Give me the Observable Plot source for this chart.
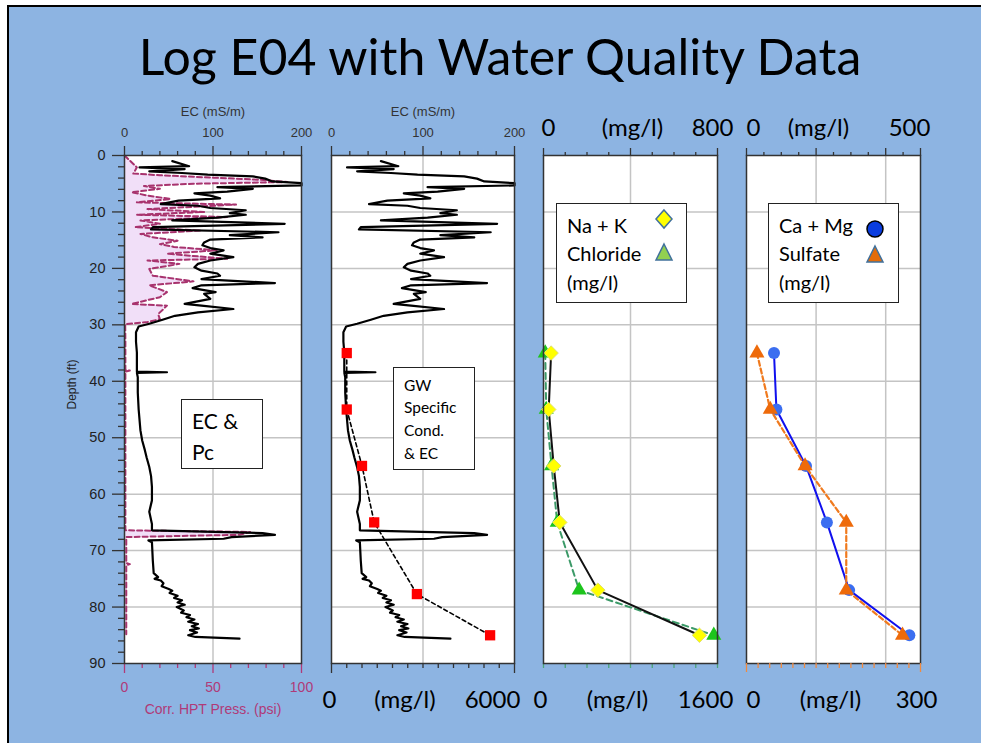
<!DOCTYPE html>
<html><head><meta charset="utf-8">
<script src="https://cdn.jsdelivr.net/npm/d3@7"></script>
<script src="https://cdn.jsdelivr.net/npm/@observablehq/plot@0.6"></script>
<style>
body{margin:0;background:#fff;width:981px;height:743px;overflow:hidden;position:relative;font-family:Lato,'Open Sans',sans-serif}
#slide{position:absolute;left:7px;top:5px;width:1000px;height:800px;background:#8DB4E2;border-top:2px solid #000;border-left:2px solid #000}
#title{position:absolute;left:0;width:1000px;top:26px;text-align:center;font-size:50px;color:#000;font-family:Lato,sans-serif}
.box{position:absolute;background:#fff;border:1px solid #222;box-sizing:border-box;font-family:Lato,sans-serif;color:#000}
.box div{position:absolute;white-space:nowrap}
svg.layer{position:absolute;top:90px}
</style></head><body>
<div id="slide"></div>
<div id="title">Log E04 with Water Quality Data</div>
<script>
// ---------- data ----------
const depthTicks = [0,10,20,30,40,50,60,70,80,90];
const gridDepths = [10,20,30,40,50,60,70,80];
const ecTickLabels = [0,100,200];
const psiTickLabels = [0,50,100];

const ecDepth = [1.0,1.9,2.1,2.4,2.8,3.1,3.4,3.7,4.1,4.6,4.9,5.3,5.6,5.9,6.4,6.7,7.1,7.6,8.0,8.6,8.9,9.3,9.7,10.2,10.5,11.0,11.5,12.1,12.7,13.1,13.6,14.1,14.5,14.9,15.4,15.9,16.4,16.8,17.4,18.0,18.6,19.2,19.8,20.4,20.9,21.3,21.9,22.6,23.0,23.5,24.2,24.5,25.4,26.3,26.6,27.2,27.8,28.4,29.1,29.8,30.3,31.3,33.0,34.9,37.0,38.3,38.4,38.5,39.3,42.0,45.0,48.7,50.5,52.2,53.5,55.2,56.8,58.7,61.1,63.1,65.3,66.4,66.9,67.2,67.6,67.9,68.2,68.5,71.8,74.0,74.7,75.0,75.3,75.8,76.3,76.8,77.1,77.5,78.0,78.4,78.8,79.2,79.6,80.0,80.6,81.0,81.4,81.8,82.2,82.6,83.0,83.4,83.8,84.1,84.5,85.0,85.3,85.6];
const ecValue = [54,73,17,68,28,65,94,145,159,167,200,200,105,145,116,79,97,108,61,41,83,97,137,119,137,105,54,181,32,30,174,119,156,97,90,88,97,112,97,123,97,83,79,87,105,108,87,170,87,77,103,90,97,68,87,123,83,57,43,28,16,13,13,14,14,14,48,14,15,15,16,18,20,23,25,28,30,31,31,28,31,31,156,170,121,112,27,31,32,33,38,34,41,44,42,50,54,51,60,56,65,60,68,59,67,64,74,70,79,72,83,76,84,74,82,72,80,130];

const pressDepth = [0,1.2,2.1,3.2,3.5,4.3,4.7,5.0,5.4,5.9,6.5,7.1,7.7,8.3,8.7,9.5,10.0,10.5,10.9,11.5,12.1,12.7,13.3,13.9,14.5,15.1,15.7,16.2,16.8,17.4,18.3,18.6,19.2,20.1,21.3,22.3,23.0,24.2,25.1,26.3,26.6,28.1,29.0,29.5,29.9,33.0,38.0,38.1,38.3,50.0,66.4,66.7,67.2,67.6,72.2,72.4,72.6,84.8];
const pressValue = [0,4,7,5,20,77,92,39,11,20,4,13,26,7,63,13,45,7,58,9,20,6,43,9,16,30,20,28,52,24,58,13,31,14,16,39,14,24,20,4,24,19,20,13,0.4,0.5,0.5,3,0.5,0.5,0.5,71,65,1,1,3,1,1];

const sampleDepth = [35,45,55,65,77.7,85];
const specCond = [500,500,1000,1400,2800,5200];          // mg/l, 0-6000 scale

const ionDepth = [35,45,55,65,77,85];
const naK = [35,24,47,75,250,717];                       // mg/l, 0-800 scale
const chloride = [16,25,74,126,328,1566];                // mg/l, 0-1600 scale
const caMg = [79,86,171,231,295,468];                    // mg/l, 0-500 scale
const sulfate = [18,41,101,172,172,269];                 // mg/l, 0-300 scale

const unitLabel = "(mg/l)";

// ---------- tables ----------
const ec = ecDepth.map((d,i)=>({d, v:ecValue[i]}));
const press = pressDepth.map((d,i)=>({d, v:pressValue[i]}));
const sc = sampleDepth.map((d,i)=>({d, v:specCond[i]}));
const nak = ionDepth.map((d,i)=>({d, v:naK[i]}));
const cl = ionDepth.map((d,i)=>({d, v:chloride[i]}));
const cam = ionDepth.map((d,i)=>({d, v:caMg[i]}));
const so4 = ionDepth.map((d,i)=>({d, v:sulfate[i]}));

// ---------- helpers ----------
const AX = "#333";
const GRID = "#c4c4c4";
const MAG = "#B03A78";
function layer(left, width, ml, mr, domain, marks){
  const svg = Plot.plot({
    width, height:640, marginTop:65, marginBottom:67, marginLeft:ml, marginRight:mr,
    x:{domain, axis:null}, y:{domain:[0,90], reverse:true, axis:null},
    style:{background:"transparent", overflow:"visible", fontFamily:"'Liberation Sans', Arial, sans-serif"},
    marks
  });
  svg.classList.add("layer");
  svg.style.left = left+"px";
  document.body.appendChild(svg);
}
const blank = ()=>"";
function ticksX(vals, anchor, size, color){
  return Plot.axisX(vals, {anchor, tickSize:size, tickFormat:blank, stroke:color, strokeWidth:1.3, label:null});
}
const bgMarks = (gx)=>[
  Plot.frame({fill:"white", stroke:null}),
  Plot.gridX(gx, {stroke:GRID, strokeOpacity:1, strokeWidth:1.5}),
  Plot.gridY(gridDepths, {stroke:GRID, strokeOpacity:1, strokeWidth:1.5})
];
function bigLabels(vals, anchor, dxs, color){
  const dy = anchor==="top" ? -27 : 37;
  return [
    Plot.text([vals[0]], {x:d=>d, text:d=>String(d), frameAnchor:anchor, dy, dx:dxs[0], fontSize:24, fontFamily:"Lato", fill:color||"#000", lineAnchor:"middle"}),
    Plot.text([vals[1]], {x:d=>d, text:d=>String(d), frameAnchor:anchor, dy, dx:dxs[1], fontSize:24, fontFamily:"Lato", fill:color||"#000", lineAnchor:"middle"}),
    Plot.text([unitLabel], {frameAnchor:anchor, dy, dx:dxs[2], fontSize:24, fontFamily:"Lato", fill:color||"#000", lineAnchor:"middle"})
  ];
}

// ---------- Panel 1 ----------
const P1 = [60, 260, 64, 19];
layer(...P1, [0,200], bgMarks([100]));
layer(...P1, [0,100], [
  Plot.areaX(press, {x:"v", y:"d", fill:"#F1DFF8"}),
  Plot.lineX(press, {x:"v", y:"d", stroke:"#A8336E", strokeWidth:2, strokeDasharray:"5,3"}),
  ticksX([10,20,30,40,60,70,80,90], "bottom", 5, MAG),
  ticksX(psiTickLabels, "bottom", 10, MAG),
  Plot.text(psiTickLabels, {x:d=>d, text:d=>String(d), frameAnchor:"bottom", dy:24, fontSize:14, fill:MAG, lineAnchor:"middle"}),
  Plot.text(["Corr. HPT Press. (psi)"], {frameAnchor:"bottom", dy:46, fontSize:14, fill:MAG, lineAnchor:"middle"})
]);
layer(...P1, [0,200], [
  Plot.lineX(ec, {x:"v", y:"d", stroke:"#000", strokeWidth:2.2}),
  Plot.frame({stroke:AX, strokeWidth:1.5}),
  ticksX([20,40,60,80,120,140,160,180], "top", 5, AX),
  ticksX(ecTickLabels, "top", 10, AX),
  Plot.text(ecTickLabels, {x:d=>d, text:d=>String(d), frameAnchor:"top", dy:-23, fontSize:13, fill:AX, lineAnchor:"middle"}),
  Plot.text(["EC (mS/m)"], {frameAnchor:"top", dy:-44, fontSize:13, fill:AX, lineAnchor:"middle"}),
  Plot.axisY(depthTicks.flatMap(t=>[t+2,t+4,t+6,t+8]).filter(t=>t<90), {anchor:"left", tickSize:6, tickFormat:blank, stroke:AX, strokeWidth:1.3, label:null}),
  Plot.axisY(depthTicks, {anchor:"left", tickSize:12, tickFormat:blank, stroke:AX, strokeWidth:1.3, label:null}),
  Plot.text(depthTicks, {y:d=>d, text:d=>String(d), frameAnchor:"left", dx:-19, textAnchor:"end", fontSize:14.5, fill:"#222"}),
  Plot.text(["Depth (ft)"], {frameAnchor:"left", dx:-52, rotate:-90, fontSize:12, fill:"#222"})
]);

// ---------- Panel 2 ----------
const P2 = [310, 220, 21, 16];
layer(...P2, [0,200], [
  ...bgMarks([100]),
  Plot.lineX(ec, {x:"v", y:"d", stroke:"#000", strokeWidth:2.2}),
  Plot.frame({stroke:AX, strokeWidth:1.5}),
  ticksX([20,40,60,80,120,140,160,180], "top", 5, AX),
  ticksX(ecTickLabels, "top", 10, AX),
  Plot.text(ecTickLabels, {x:d=>d, text:d=>String(d), frameAnchor:"top", dy:-23, fontSize:13, fill:AX, lineAnchor:"middle"}),
  Plot.text(["EC (mS/m)"], {frameAnchor:"top", dy:-44, fontSize:13, fill:AX, lineAnchor:"middle"})
]);
layer(...P2, [0,6000], [
  Plot.lineX(sc, {x:"v", y:"d", stroke:"#000", strokeWidth:1.6, strokeDasharray:"4,3"}),
  Plot.dot(sc, {x:"v", y:"d", symbol:"square", r:5.8, fill:"#FF0000"}),
  ticksX([500,1000,1500,2000,2500,3000,3500,4000,4500,5000,5500], "bottom", 5, AX),
  ticksX([0,6000], "bottom", 10, AX),
  ...bigLabels([0,6000], "bottom", [-2,-22,-18])
]);

// ---------- Panel 3 ----------
const P3 = [520, 220, 23, 23];
layer(...P3, [0,800], bgMarks([400]));
layer(...P3, [0,1600], [
  Plot.lineX(cl, {x:"v", y:"d", stroke:"#3C9A68", strokeWidth:2, strokeDasharray:"6,4"}),
  Plot.dot(cl, {x:"v", y:"d", symbol:"triangle", r:5.6, fill:"#1DC41D"}),
  ticksX([200,400,600,800,1000,1200,1400,1600,0], "bottom", 5, "#4CA57A")
]);
layer(...P3, [0,800], [
  Plot.lineX(nak, {x:"v", y:"d", stroke:"#111", strokeWidth:2}),
  Plot.dot(nak, {x:"v", y:"d", symbol:"diamond2", r:6.5, fill:"#FFFF00", stroke:"#E0E070", strokeWidth:1}),
  Plot.frame({stroke:AX, strokeWidth:1.5}),
  ticksX([100,200,300,500,600,700], "top", 4, AX),
  ticksX([0,400,800], "top", 8, AX),
  ...bigLabels([0,800], "top", [5,-5,2])
]);
// bottom labels for panel 3 (1600 scale)
layer(...P3, [0,1600], bigLabels([0,1600], "bottom", [-3,-12,-13]));

// ---------- Panel 4 ----------
const P4 = [725, 220, 21, 25];
layer(...P4, [0,500], [
  ...bgMarks([200,400]),
  Plot.lineX(cam, {x:"v", y:"d", stroke:"#1010EE", strokeWidth:2}),
  Plot.dot(cam, {x:"v", y:"d", r:6, fill:"#3B6EF0"}),
  ticksX([50,100,150,250,300,350,450], "top", 4, AX),
  ticksX([0,200,400,500], "top", 8, AX),
  ...bigLabels([0,500], "top", [7,-11,-15])
]);
layer(...P4, [0,300], [
  Plot.lineX(so4, {x:"v", y:"d", stroke:"#F07A1E", strokeWidth:2.2, strokeDasharray:"5,3"}),
  Plot.dot(so4, {x:"v", y:"d", symbol:"triangle", r:5.6, fill:"#EE6A0A"}),
  Plot.frame({stroke:AX, strokeWidth:1.5}),
  ticksX([20,40,60,80,100,120,140,160,180,200,220,240,260,280], "bottom", 5, "#F08A40"),
  ticksX([0,300], "bottom", 9, "#F08A40"),
  ...bigLabels([0,300], "bottom", [7,-4,-3])
]);

// ---------- text boxes / legends ----------
function box(x,y,w,h,lines,fs,extra){
  const b = document.createElement("div");
  b.className="box";
  Object.assign(b.style,{left:x+"px",top:y+"px",width:w+"px",height:h+"px",fontSize:fs+"px"});
  lines.forEach(([t,lx,ly])=>{
    const d=document.createElement("div");
    d.textContent=t; d.style.left=lx+"px"; d.style.top=ly+"px"; d.style.lineHeight="1";
    b.appendChild(d);
  });
  if(extra) b.insertAdjacentHTML("beforeend", extra);
  document.body.appendChild(b);
}
box(181,399,82,70,[["EC &",10,10],["Pc",10,41]],21);
box(393,367,82,103,[["GW",10,10],["Specific",10,32],["Cond.",10,55],["& EC",10,78]],15.5);
box(556,203,131,100,[["Na + K",10,11],["Chloride",10,39],["(mg/l)",10,68]],20,
  `<svg style="position:absolute;left:0;top:0" width="131" height="100">
    <path d="M107,6 L115,15 L107,24 L99,15 Z" fill="#FFFF00" stroke="#41719C" stroke-width="1.5"/>
    <path d="M107,40 L115,56 L99,56 Z" fill="#92D050" stroke="#41719C" stroke-width="1.5"/>
  </svg>`);
box(768,203,131,100,[["Ca + Mg",10,11],["Sulfate",10,39],["(mg/l)",10,68]],20,
  `<svg style="position:absolute;left:0;top:0" width="131" height="100">
    <circle cx="106" cy="25" r="8" fill="#0A3DE0" stroke="#000" stroke-width="1.5"/>
    <path d="M106,42 L114,58 L98,58 Z" fill="#E36C0A" stroke="#41719C" stroke-width="1.5"/>
  </svg>`);
</script>
</body></html>
